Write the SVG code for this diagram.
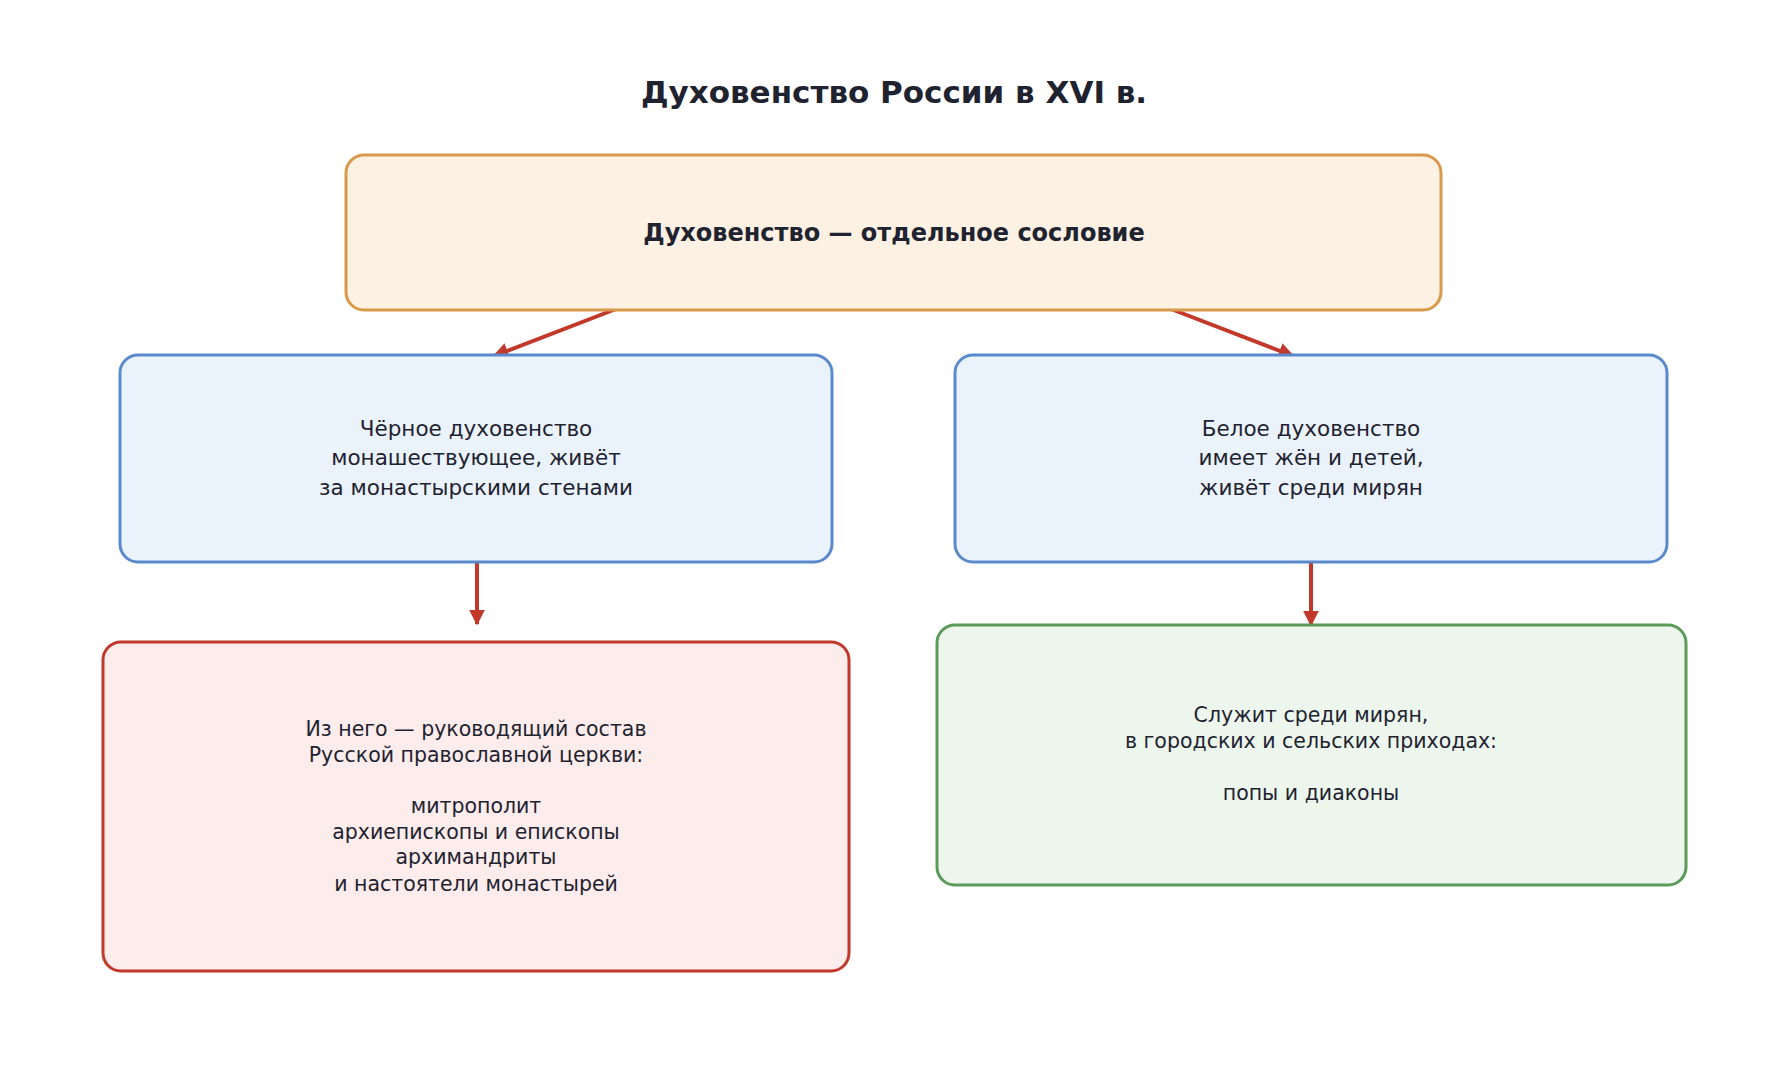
<svg xmlns="http://www.w3.org/2000/svg" width="1788" height="1083" viewBox="0 0 1788 1083">
<style>
text{font-family:"DejaVu Sans","Noto Sans",sans-serif;fill:#1f2330;text-anchor:middle}
.b{stroke-width:3}
.t{font-size:21.5px}
.s{font-size:20.5px}
.c{stroke:#c0392b;stroke-width:4;fill:none;marker-end:url(#a)}
</style>
<defs><marker id="a" viewBox="0 0 10 10" refX="9" refY="5" markerWidth="4" markerHeight="4" orient="auto" markerUnits="strokeWidth"><path d="M0,0L10,5L0,10z" fill="#c0392b"/></marker></defs>
<rect width="1788" height="1083" fill="#fff"/>
<text x="894" y="103" style="font-size:31px;font-weight:bold">Духовенство России в XVI в.</text>
<g id="connectors">
<line class="c" x1="616" y1="309" x2="494" y2="356"/>
<line class="c" x1="1171" y1="309" x2="1293" y2="356"/>
<line class="c" x1="477" y1="559" x2="477" y2="624"/>
<line class="c" x1="1311" y1="559" x2="1311" y2="625"/>
</g>
<g id="top"><rect class="b" x="346" y="155" width="1095" height="155" rx="18" fill="#fdf1e4" stroke="#d9994a"/>
<text x="894" y="241" style="font-size:24px;font-weight:bold">Духовенство — отдельное сословие</text></g>
<g id="black"><rect class="b" x="120" y="355" width="712" height="207" rx="18" fill="#eaf2fc" stroke="#5a8acb"/>
<text class="t" x="476" y="436">Чёрное духовенство</text><text class="t" x="476" y="465">монашествующее, живёт</text><text class="t" x="476" y="495">за монастырскими стенами</text></g>
<g id="white"><rect class="b" x="955" y="355" width="712" height="207" rx="18" fill="#eaf2fc" stroke="#5a8acb"/>
<text class="t" x="1311" y="436">Белое духовенство</text><text class="t" x="1311" y="465">имеет жён и детей,</text><text class="t" x="1311" y="495">живёт среди мирян</text></g>
<g id="leaders"><rect class="b" x="103" y="642" width="746" height="329" rx="18" fill="#fdecec" stroke="#c0392b"/>
<text class="s" x="476" y="736">Из него — руководящий состав</text><text class="s" x="476" y="762">Русской православной церкви:</text>
<text class="s" x="476" y="813">митрополит</text><text class="s" x="476" y="839">архиепископы и епископы</text><text class="s" x="476" y="864">архимандриты</text><text class="s" x="476" y="891">и настоятели монастырей</text></g>
<g id="priests"><rect class="b" x="937" y="625" width="749" height="260" rx="18" fill="#edf6ed" stroke="#5b9a5b"/>
<text class="s" x="1311" y="722">Служит среди мирян,</text><text class="s" x="1311" y="748">в городских и сельских приходах:</text><text class="s" x="1311" y="800">попы и диаконы</text></g>
</svg>
